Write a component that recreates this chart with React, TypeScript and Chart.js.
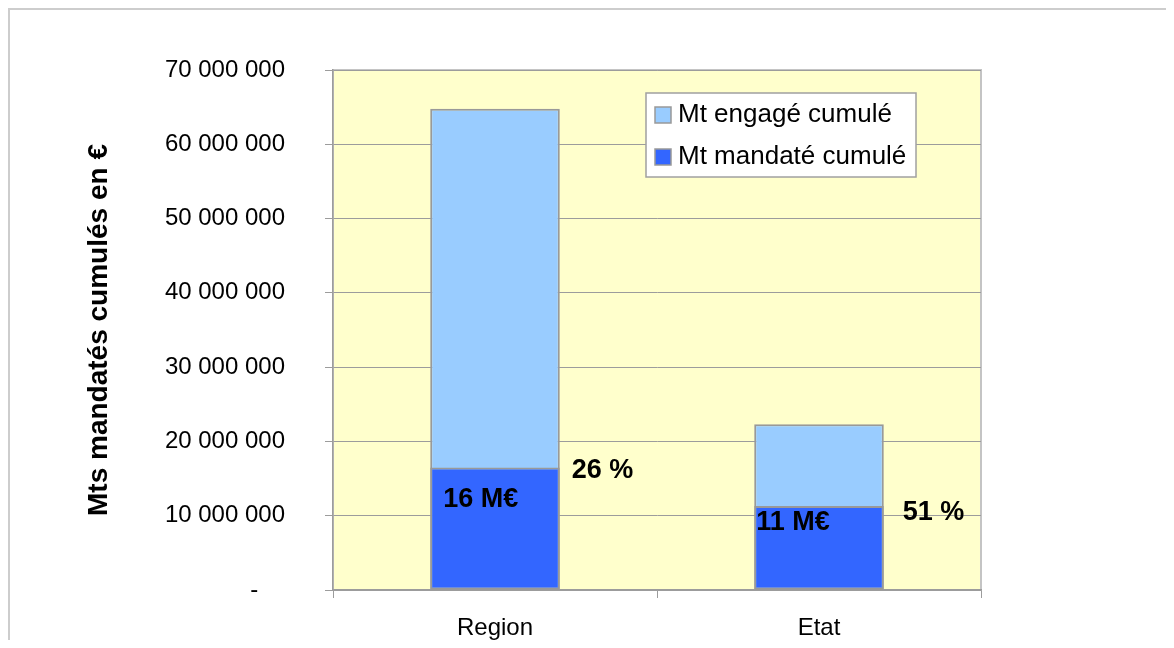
import React, { useEffect, useRef } from "react";
import { Chart, registerables } from "chart.js";

Chart.register(...registerables);

// ---- data ----
const CATEGORIES = ["Region", "Etat"];
const SERIES_NAMES = ["Mt engagé cumulé", "Mt mandaté cumulé"];
const ENGAGE = [64800000, 22300000];
const MANDATE = [16500000, 11300000];
const AMOUNT_LABELS = ["16 M€", "11 M€"];
const PERCENT_LABELS = ["26 %", "51 %"];
const Y_TICK_LABELS = [
  "-",
  "10 000 000",
  "20 000 000",
  "30 000 000",
  "40 000 000",
  "50 000 000",
  "60 000 000",
  "70 000 000",
];
const Y_TITLE = "Mts mandatés cumulés en €";

// ---- styles ----
const FONT = "'Liberation Sans', Arial, sans-serif";
const LIGHT_BLUE = "#99CCFF";
const BLUE = "#3366FF";
const GRID = "#9c9c9c";
const PLOT_BG = "#FFFFCC";

// label nudges (pixels) relative to the mandaté bar
const AMOUNT_NUDGE = [
  { dx: 13, dy: 32 },
  { dx: 2, dy: 16 },
];
const PERCENT_NUDGE = [
  { dx: 12, dy: 3 },
  { dx: 19, dy: 6 },
];

const decorPlugin = {
  id: "decor",
  beforeDraw(chart: any) {
    const { ctx, chartArea: a } = chart;
    ctx.save();
    ctx.fillStyle = PLOT_BG;
    ctx.fillRect(a.left, a.top, a.right - a.left, a.bottom - a.top);
    ctx.strokeStyle = "#c4c4c4";
    ctx.lineWidth = 2;
    ctx.strokeRect(a.left, a.top, a.right - a.left, a.bottom - a.top);
    ctx.restore();
  },
  afterDraw(chart: any) {
    const { ctx, chartArea: a } = chart;
    ctx.save();
    // data labels
    const meta = chart.getDatasetMeta(0); // mandaté
    ctx.fillStyle = "#000";
    ctx.font = `bold 27px ${FONT}`;
    ctx.textBaseline = "middle";
    ctx.textAlign = "left";
    meta.data.forEach((bar: any, i: number) => {
      const left = bar.x - bar.width / 2;
      const right = bar.x + bar.width / 2;
      ctx.fillText(AMOUNT_LABELS[i], left + AMOUNT_NUDGE[i].dx, bar.y + AMOUNT_NUDGE[i].dy);
      ctx.fillText(PERCENT_LABELS[i], right + PERCENT_NUDGE[i].dx, bar.y + PERCENT_NUDGE[i].dy);
    });

    // legend
    const bx = a.left + 313;
    const by = a.top + 23;
    const bw = 270;
    const bh = 84;
    ctx.fillStyle = "#ffffff";
    ctx.fillRect(bx, by, bw, bh);
    ctx.strokeStyle = "#a0a0a0";
    ctx.lineWidth = 1.5;
    ctx.strokeRect(bx, by, bw, bh);
    const colors = [LIGHT_BLUE, BLUE];
    ctx.font = `26px ${FONT}`;
    ctx.textBaseline = "middle";
    SERIES_NAMES.forEach((name, i) => {
      const cy = by + 22 + i * 42;
      ctx.fillStyle = colors[i];
      ctx.fillRect(bx + 9, cy - 8, 16, 16);
      ctx.strokeStyle = "#999";
      ctx.lineWidth = 1.5;
      ctx.strokeRect(bx + 9, cy - 8, 16, 16);
      ctx.fillStyle = "#000";
      ctx.fillText(name, bx + 32, cy);
    });
    ctx.restore();
  },
};

export default function App() {
  const ref = useRef<HTMLCanvasElement | null>(null);

  useEffect(() => {
    if (!ref.current) return;
    const chart = new Chart(ref.current, {
      type: "bar",
      data: {
        labels: CATEGORIES,
        datasets: [
          {
            label: SERIES_NAMES[1],
            data: MANDATE,
            backgroundColor: BLUE,
            borderColor: "#999999",
            borderWidth: 2,
            borderSkipped: false,
            barPercentage: 0.4,
            categoryPercentage: 1,
          },
          {
            label: SERIES_NAMES[0],
            data: ENGAGE,
            backgroundColor: LIGHT_BLUE,
            borderColor: "#999999",
            borderWidth: 2,
            borderSkipped: false,
            barPercentage: 0.4,
            categoryPercentage: 1,
          },
        ],
      },
      options: {
        responsive: false,
        animation: false,
        devicePixelRatio: 1,
        layout: { padding: { top: 60, right: 185, left: 0, bottom: 0 } },
        plugins: {
          legend: { display: false },
          tooltip: { enabled: false },
        },
        scales: {
          x: {
            stacked: true,
            offset: true,
            afterFit: (s: any) => {
              s.height = 50;
            },
            grid: {
              offset: true,
              drawOnChartArea: false,
              drawTicks: true,
              tickLength: 8,
              color: GRID,
              lineWidth: 1,
            },
            border: { color: GRID, width: 1.5 },
            ticks: {
              color: "#000",
              font: { family: FONT, size: 24 },
              padding: 16,
            },
          },
          y: {
            stacked: false,
            min: 0,
            max: 70000000,
            afterFit: (s: any) => {
              s.width = 323;
              s.paddingTop = 10;
              s.paddingBottom = 10;
            },
            afterBuildTicks: (s: any) => {
              s.ticks = Y_TICK_LABELS.map((_, i) => ({ value: i * 10000000 }));
            },
            grid: {
              color: GRID,
              lineWidth: 1,
              drawTicks: true,
              tickLength: 8,
            },
            border: { color: GRID, width: 1.5 },
            ticks: {
              color: "#000",
              font: { family: FONT, size: 24 },
              padding: 40,
              callback: (_v: any, i: number) =>
                i === 0 ? Y_TICK_LABELS[0] + "    " : Y_TICK_LABELS[i],
            },
            title: {
              display: true,
              text: Y_TITLE,
              color: "#000",
              font: { family: FONT, size: 28, weight: "bold" },
              padding: { top: 72, bottom: 0 },
            },
          },
        },
      },
      plugins: [decorPlugin],
    });
    return () => chart.destroy();
  }, []);

  return (
    <div
      style={{
        width: 1158,
        height: 640,
        marginBottom: -8,
        boxSizing: "border-box",
        borderTop: "2px solid #cdcdcd",
        borderLeft: "2px solid #cdcdcd",
        overflow: "hidden",
        background: "#fff",
      }}
    >
      <canvas ref={ref} width={1156} height={630} style={{ display: "block" }} />
    </div>
  );
}
